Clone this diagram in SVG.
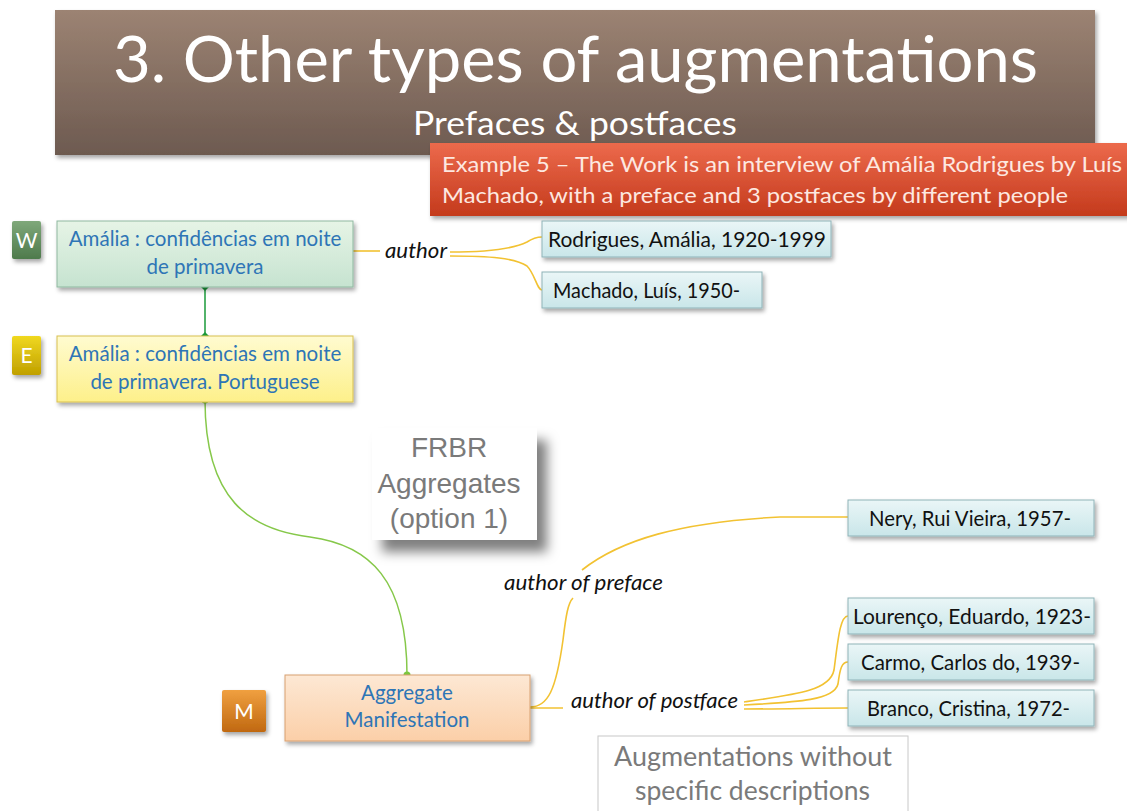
<svg xmlns="http://www.w3.org/2000/svg" width="1127" height="811" viewBox="0 0 1127 811">
<defs>
<linearGradient id="gTitle" x1="0" y1="0" x2="0" y2="1"><stop offset="0" stop-color="#9c8373"/><stop offset="1" stop-color="#6d5a50"/></linearGradient>
<linearGradient id="gRed" x1="0" y1="0" x2="0" y2="1"><stop offset="0" stop-color="#ec6a4c"/><stop offset="1" stop-color="#c43a1c"/></linearGradient>
<linearGradient id="gW" x1="0" y1="0" x2="0" y2="1"><stop offset="0" stop-color="#e6f4e6"/><stop offset="1" stop-color="#c6e3d0"/></linearGradient>
<linearGradient id="gE" x1="0" y1="0" x2="0" y2="1"><stop offset="0" stop-color="#fffbd0"/><stop offset="1" stop-color="#fdf08a"/></linearGradient>
<linearGradient id="gM" x1="0" y1="0" x2="0" y2="1"><stop offset="0" stop-color="#fde8d4"/><stop offset="1" stop-color="#fbcfa8"/></linearGradient>
<linearGradient id="gP" x1="0" y1="0" x2="0" y2="1"><stop offset="0" stop-color="#eaf6f7"/><stop offset="1" stop-color="#c9e6e9"/></linearGradient>
<linearGradient id="bW" x1="0" y1="0" x2="0" y2="1"><stop offset="0" stop-color="#7fa87a"/><stop offset="1" stop-color="#4e7a4c"/></linearGradient>
<linearGradient id="bE" x1="0" y1="0" x2="0" y2="1"><stop offset="0" stop-color="#f0d820"/><stop offset="1" stop-color="#c0a000"/></linearGradient>
<linearGradient id="bM" x1="0" y1="0" x2="0" y2="1"><stop offset="0" stop-color="#f0a040"/><stop offset="1" stop-color="#c06810"/></linearGradient>
<filter id="sh" x="-10%" y="-10%" width="130%" height="140%"><feDropShadow dx="2" dy="3" stdDeviation="2" flood-color="#000" flood-opacity="0.35"/></filter>
<filter id="shBig" x="-20%" y="-20%" width="150%" height="160%"><feDropShadow dx="10" dy="12" stdDeviation="6" flood-color="#000" flood-opacity="0.5"/></filter>
<marker id="dia" markerWidth="8" markerHeight="8" refX="4" refY="4" markerUnits="userSpaceOnUse"><path d="M4,0 L8,4 L4,8 L0,4 Z" fill="#1a9a3a"/></marker>
<marker id="dot" markerWidth="8" markerHeight="8" refX="4" refY="4" markerUnits="userSpaceOnUse"><circle cx="4" cy="4" r="3.5" fill="#7cc840"/></marker>
</defs>
<style>
.f{font-family:Lato,"Open Sans","Liberation Sans",sans-serif}
.nt{font-family:Lato,"Open Sans","Liberation Sans",sans-serif;font-size:20.5px;fill:#2e75b6;text-anchor:middle}
.pt{font-family:Lato,"Open Sans","Liberation Sans",sans-serif;font-size:20.5px;fill:#111}
.lab{font-family:Lato,"Open Sans","Liberation Sans",sans-serif;font-size:21px;font-style:italic;fill:#111}
.bt{font-family:Lato,"Open Sans","Liberation Sans",sans-serif;font-size:21px;fill:#fff;text-anchor:middle}
.per{fill:url(#gP);stroke:#8fb3b8;stroke-width:1;filter:url(#sh)}
.au{fill:none;stroke:#f2c232;stroke-width:1.6}
</style>
<rect width="1127" height="811" fill="#fff"/>
<g id="title">
<rect x="55" y="10" width="1040" height="145" fill="url(#gTitle)" filter="url(#sh)"/>
<text class="f" x="113" y="82" font-size="64" fill="#fff" textLength="925" lengthAdjust="spacingAndGlyphs">3. Other types of augmentations</text>
<text class="f" x="413" y="135" font-size="33" fill="#fff" textLength="324" lengthAdjust="spacingAndGlyphs">Prefaces &amp; postfaces</text>
</g>
<g id="example">
<rect x="430" y="143" width="700" height="73" fill="url(#gRed)" filter="url(#sh)"/>
<text class="f" x="442" y="172" font-size="21" fill="#fde8e0" textLength="680" lengthAdjust="spacingAndGlyphs">Example 5 – The Work is an interview of Amália Rodrigues by Luís</text>
<text class="f" x="442" y="203" font-size="21" fill="#fde8e0" textLength="626" lengthAdjust="spacingAndGlyphs">Machado, with a preface and 3 postfaces by different people</text>
</g>
<g id="connectors">
<line x1="205" y1="287" x2="205" y2="336" stroke="#1a9a3a" stroke-width="1.5" marker-start="url(#dia)" marker-end="url(#dia)"/>
<path d="M205,400 C205,500 250,530 310,537 C370,545 407,580 407,675" fill="none" stroke="#86c84a" stroke-width="1.5" marker-start="url(#dot)" marker-end="url(#dot)"/>
<line class="au" x1="353" y1="251" x2="380" y2="251"/>
<path class="au" d="M450,252 C490,252 515,248 527,242 C533,238 537,237 542,237"/>
<path class="au" d="M450,256 C490,256 515,258 527,266 C535,274 537,290 542,290"/>
<line class="au" x1="530" y1="708" x2="563" y2="708"/>
<path class="au" d="M530,707 C548,707 556,690 563,640 C566,615 568,603 573,598"/>
<path class="au" d="M582,570 C620,540 680,522 780,517 L848,517"/>
<path class="au" d="M744,702 C800,694 830,690 834,670 C838,640 840,616 848,616"/>
<path class="au" d="M744,705 C800,702 834,700 838,684 C840,668 842,662 848,662"/>
<path class="au" d="M744,709 C790,709 810,708 848,708"/>
</g>
<g id="W">
<rect x="12" y="221" width="29" height="38" rx="2" fill="url(#bW)" filter="url(#sh)"/>
<text class="bt" x="26.5" y="248">W</text>
<rect x="57" y="221" width="296" height="66" fill="url(#gW)" stroke="#8fb8a0" stroke-width="1" filter="url(#sh)"/>
<text class="nt" x="205" y="246">Amália : confidências em noite</text>
<text class="nt" x="205" y="274">de primavera</text>
</g>
<g id="E">
<rect x="12" y="336" width="29" height="39" rx="2" fill="url(#bE)" filter="url(#sh)"/>
<text class="bt" x="26.5" y="363">E</text>
<rect x="57" y="336" width="296" height="66" fill="url(#gE)" stroke="#d8c050" stroke-width="1" filter="url(#sh)"/>
<text class="nt" x="205" y="361">Amália : confidências em noite</text>
<text class="nt" x="205" y="389">de primavera. Portuguese</text>
</g>
<g id="M">
<rect x="222" y="690" width="44" height="42" rx="2" fill="url(#bM)" filter="url(#sh)"/>
<text class="bt" x="244" y="719">M</text>
<rect x="285" y="675" width="245" height="66" fill="url(#gM)" stroke="#d8a070" stroke-width="1" filter="url(#sh)"/>
<text class="nt" x="407" y="700">Aggregate</text>
<text class="nt" x="407" y="727">Manifestation</text>
</g>
<g id="frbr">
<rect x="372" y="428" width="165" height="112" fill="#fff" filter="url(#shBig)"/>
<text x="449" y="457" font-family="'Liberation Sans',Arial,sans-serif" font-size="28" fill="#7a7a7a" text-anchor="middle">FRBR</text>
<text x="449" y="493" font-family="'Liberation Sans',Arial,sans-serif" font-size="28" fill="#7a7a7a" text-anchor="middle">Aggregates</text>
<text x="449" y="528" font-family="'Liberation Sans',Arial,sans-serif" font-size="28" fill="#7a7a7a" text-anchor="middle">(option 1)</text>
</g>
<g id="labels">
<text class="lab" x="385" y="258" textLength="62" lengthAdjust="spacingAndGlyphs">author</text>
<text class="lab" x="504" y="590" textLength="159" lengthAdjust="spacingAndGlyphs">author of preface</text>
<text class="lab" x="571" y="708" textLength="167" lengthAdjust="spacingAndGlyphs">author of postface</text>
</g>
<g id="rodrigues"><rect class="per" x="542" y="221" width="289" height="36"/><text class="pt" x="548" y="247" textLength="278" lengthAdjust="spacingAndGlyphs">Rodrigues, Amália, 1920-1999</text></g>
<g id="machado"><rect class="per" x="542" y="272" width="220" height="36"/><text class="pt" x="553" y="298" textLength="187" lengthAdjust="spacingAndGlyphs">Machado, Luís, 1950-</text></g>
<g id="nery"><rect class="per" x="848" y="500" width="246" height="36"/><text class="pt" x="869" y="526" textLength="202" lengthAdjust="spacingAndGlyphs">Nery, Rui Vieira, 1957-</text></g>
<g id="lourenco"><rect class="per" x="848" y="598" width="246" height="36"/><text class="pt" x="853" y="624" textLength="238" lengthAdjust="spacingAndGlyphs">Lourenço, Eduardo, 1923-</text></g>
<g id="carmo"><rect class="per" x="848" y="644" width="246" height="36"/><text class="pt" x="861" y="670" textLength="219" lengthAdjust="spacingAndGlyphs">Carmo, Carlos do, 1939-</text></g>
<g id="branco"><rect class="per" x="848" y="690" width="246" height="36"/><text class="pt" x="867" y="716" textLength="203" lengthAdjust="spacingAndGlyphs">Branco, Cristina, 1972-</text></g>
<g id="augment">
<rect x="598" y="736" width="310" height="80" fill="#fff" stroke="#c8c8c8" stroke-width="1"/>
<text class="f" x="614" y="766" font-size="26" fill="#7a7a7a" textLength="278" lengthAdjust="spacingAndGlyphs">Augmentations without</text>
<text class="f" x="635" y="800" font-size="26" fill="#7a7a7a" textLength="235" lengthAdjust="spacingAndGlyphs">specific descriptions</text>
</g>
</svg>
